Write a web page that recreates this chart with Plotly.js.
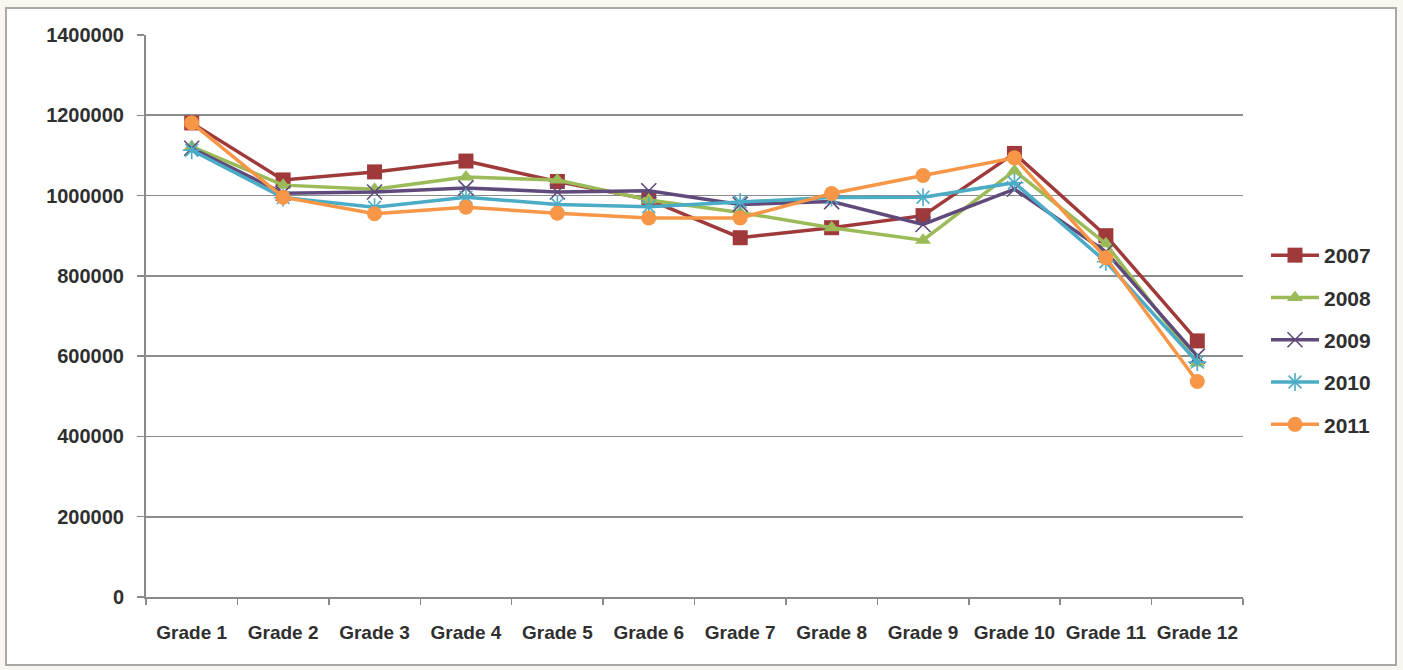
<!DOCTYPE html>
<html>
<head>
<meta charset="utf-8">
<script src="https://cdn.plot.ly/plotly-3.0.1.min.js"></script>
<style>
html,body{margin:0;padding:0;background:#f8f6ee;}
#chart{width:1403px;height:670px;}
</style>
</head>
<body>
<div id="chart"></div>
<script>
const grades = ["Grade 1","Grade 2","Grade 3","Grade 4","Grade 5","Grade 6","Grade 7","Grade 8","Grade 9","Grade 10","Grade 11","Grade 12"];
const seriesNames = ["2007","2008","2009","2010","2011"];
const y2007 = [1181000,1039000,1059000,1086000,1035000,990000,895000,920000,950000,1105000,900000,638000];
const y2008 = [1122000,1026000,1016000,1046000,1039000,989000,958000,920000,889000,1062000,880000,583000];
const y2009 = [1118000,1006000,1009000,1019000,1009000,1012000,978000,985000,928000,1016000,860000,600000];
const y2010 = [1113000,995000,971000,996000,978000,972000,984000,995000,996000,1032000,835000,585000];
const y2011 = [1181000,996000,955000,971000,956000,944000,944000,1005000,1050000,1094000,845000,537000];
const yTicks = [0,200000,400000,600000,800000,1000000,1200000,1400000];

const colors = ["#A03A3A","#9BBB59","#604A7B","#4BACC6","#F79646"];
const symbols = ["square","triangle-up","x-thin-open","asterisk-open","circle"];
const sizes = [15,14,15,15,15];
const allY = [y2007,y2008,y2009,y2010,y2011];

const traces = allY.map((ys,i)=>({
  type:"scatter", mode:"lines+markers", x:grades, y:ys, name:seriesNames[i],
  legendgroup:"g"+i,
  line:{color:colors[i], width:3.5},
  marker:{symbol:symbols[i], size:sizes[i], color:colors[i],
          line:{color:colors[i], width:(i===2||i===3)?1.6:0}}
}));

const L=146,R=1243,T=35,B=597,W=1403,H=670;
const pw=R-L, ph=B-T;
const txt = "#2f2f2f";
const fam = "'Liberation Sans', Arial, sans-serif";
const layout = {
  width:W, height:H,
  margin:{l:L, r:W-R, t:T, b:H-B, pad:0},
  paper_bgcolor:"#f8f6ee",
  plot_bgcolor:"rgba(0,0,0,0)",
  font:{family:fam, color:txt, size:18, weight:"bold"},
  showlegend:true,
  legend:{x:(1266-L)/pw, xanchor:"left", y:(B-340)/ph, yanchor:"middle",
          font:{family:fam, size:21, weight:"bold", color:txt}, tracegroupgap:12,
          itemwidth:48, bgcolor:"rgba(0,0,0,0)"},
  xaxis:{type:"category", showgrid:false, showline:true, linecolor:"#8a8a8a", linewidth:2,
         ticks:"outside", tickson:"boundaries", ticklen:6, tickcolor:"#8a8a8a", tickwidth:1.5,
         tickfont:{family:fam, size:19, weight:"bold", color:txt}, ticklabelstandoff:17,
         range:[-0.5,11.5], fixedrange:true},
  yaxis:{range:[0,1400000], tickvals:yTicks, ticktext:yTicks.map(v=>String(v)),
         showgrid:true, gridcolor:"#8c8c8c", gridwidth:1.8,
         showline:true, linecolor:"#8a8a8a", linewidth:2,
         ticks:"outside", ticklen:7, tickcolor:"#8a8a8a", tickwidth:1.5,
         tickfont:{family:fam, size:20, weight:"bold", color:txt}, ticklabelstandoff:9,
         zeroline:false, fixedrange:true},
  shapes:[{type:"rect", xref:"paper", yref:"paper", layer:"below",
           x0:(6-L)/pw, x1:(1396-L)/pw, y0:(B-665)/ph, y1:(B-8)/ph,
           fillcolor:"#ffffff", line:{color:"#a8a8a8", width:2}}]
};
Plotly.newPlot("chart", traces, layout, {displayModeBar:false, staticPlot:true});
</script>
</body>
</html>
